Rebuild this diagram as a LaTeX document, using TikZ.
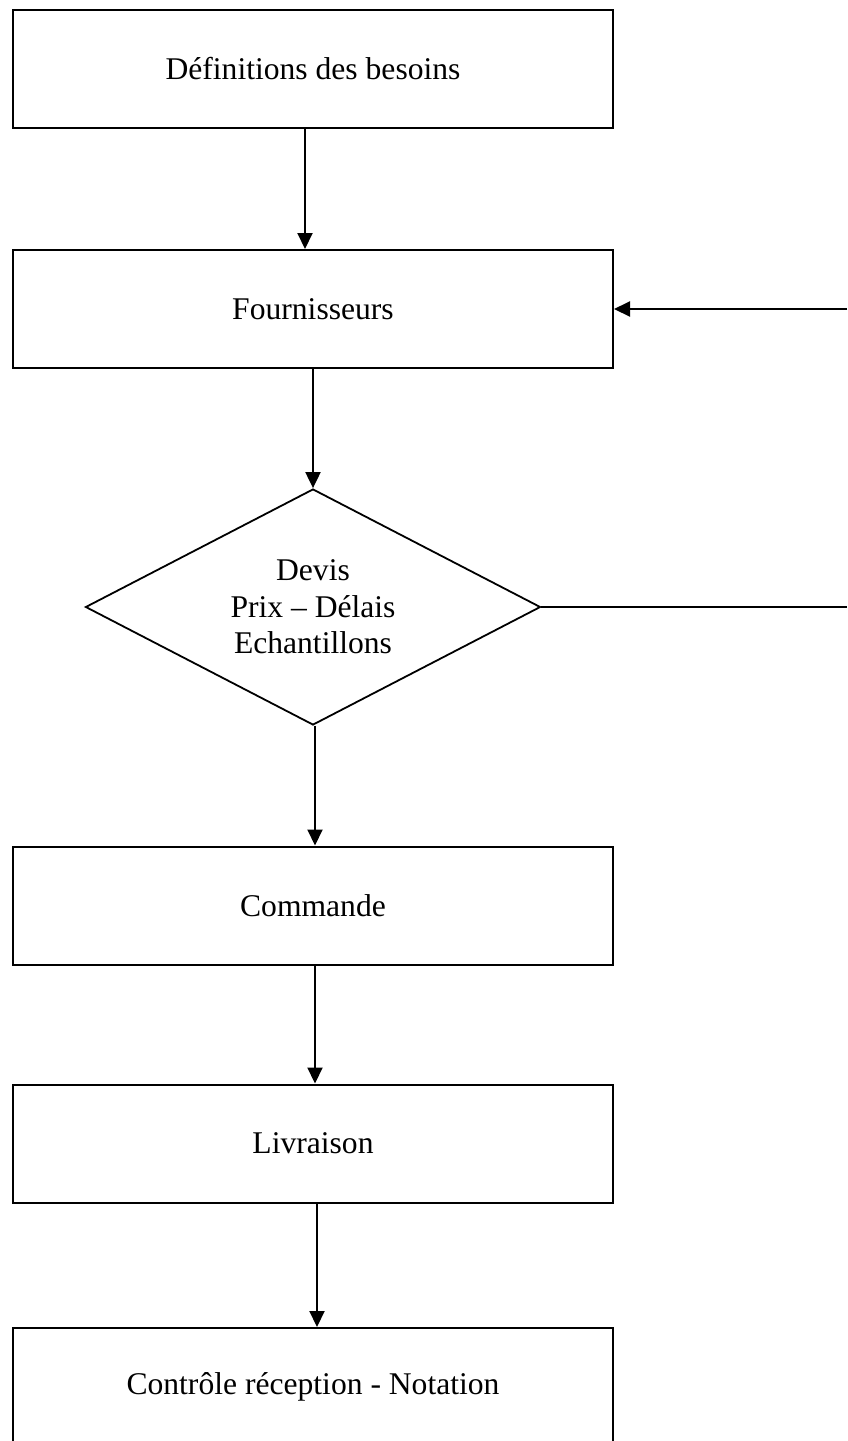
\documentclass[tikz,border=0pt]{standalone}
\usepackage{fontspec}
\setmainfont{Liberation Serif}
\usetikzlibrary{shapes.geometric,arrows.meta}
\begin{document}
\begin{tikzpicture}[x=0.5pt,y=-0.5pt,
  every node/.style={font=\fontsize{15.8}{18.3}\selectfont},
  stepbox/.style={draw,line width=1pt,rectangle,inner sep=0pt,
    minimum width=300pt,minimum height=59pt},
  choice/.style={draw,line width=0.9pt,diamond,inner sep=0pt,aspect=1.93,
    minimum width=227.5pt,minimum height=118pt,align=center},
  arr/.style={line width=1pt,-{Triangle[length=8pt,width=7.5pt]}},
  link/.style={line width=1pt}]
  \useasboundingbox (0,0) rectangle (847,1441);

  % process steps
  \node[stepbox] (def) at (313,69) {Définitions des besoins};
  \node[stepbox] (four) at (313,309) {Fournisseurs};
  \node[choice] (devis) at (313,607) {Devis\\Prix – Délais\\Echantillons};
  \node[stepbox] (cmd) at (313,905.5) {Commande};
  \node[stepbox] (liv) at (313,1143.5) {Livraison};
  \node[stepbox] (ctrl) at (313,1387) {Contrôle réception - Notation};

  % return loop ends at the page edge
  \coordinate (loopTop) at (847,309);
  \coordinate (loopBot) at (847,607);

  % flow
  \draw[arr] ([xshift=-4pt]def.south) -- ([xshift=-4pt]four.north);
  \draw[arr] (four.south) -- (devis.north);
  \draw[arr] ([xshift=1pt]devis.south) -- ([xshift=1pt]cmd.north);
  \draw[arr] ([xshift=1pt]cmd.south) -- ([xshift=1pt]liv.north);
  \draw[arr] ([xshift=2pt]liv.south) -- ([xshift=2pt]ctrl.north);
  \draw[link] (devis.east) -- (loopBot);
  \draw[arr] (loopTop) -- (four.east);
\end{tikzpicture}
\end{document}
